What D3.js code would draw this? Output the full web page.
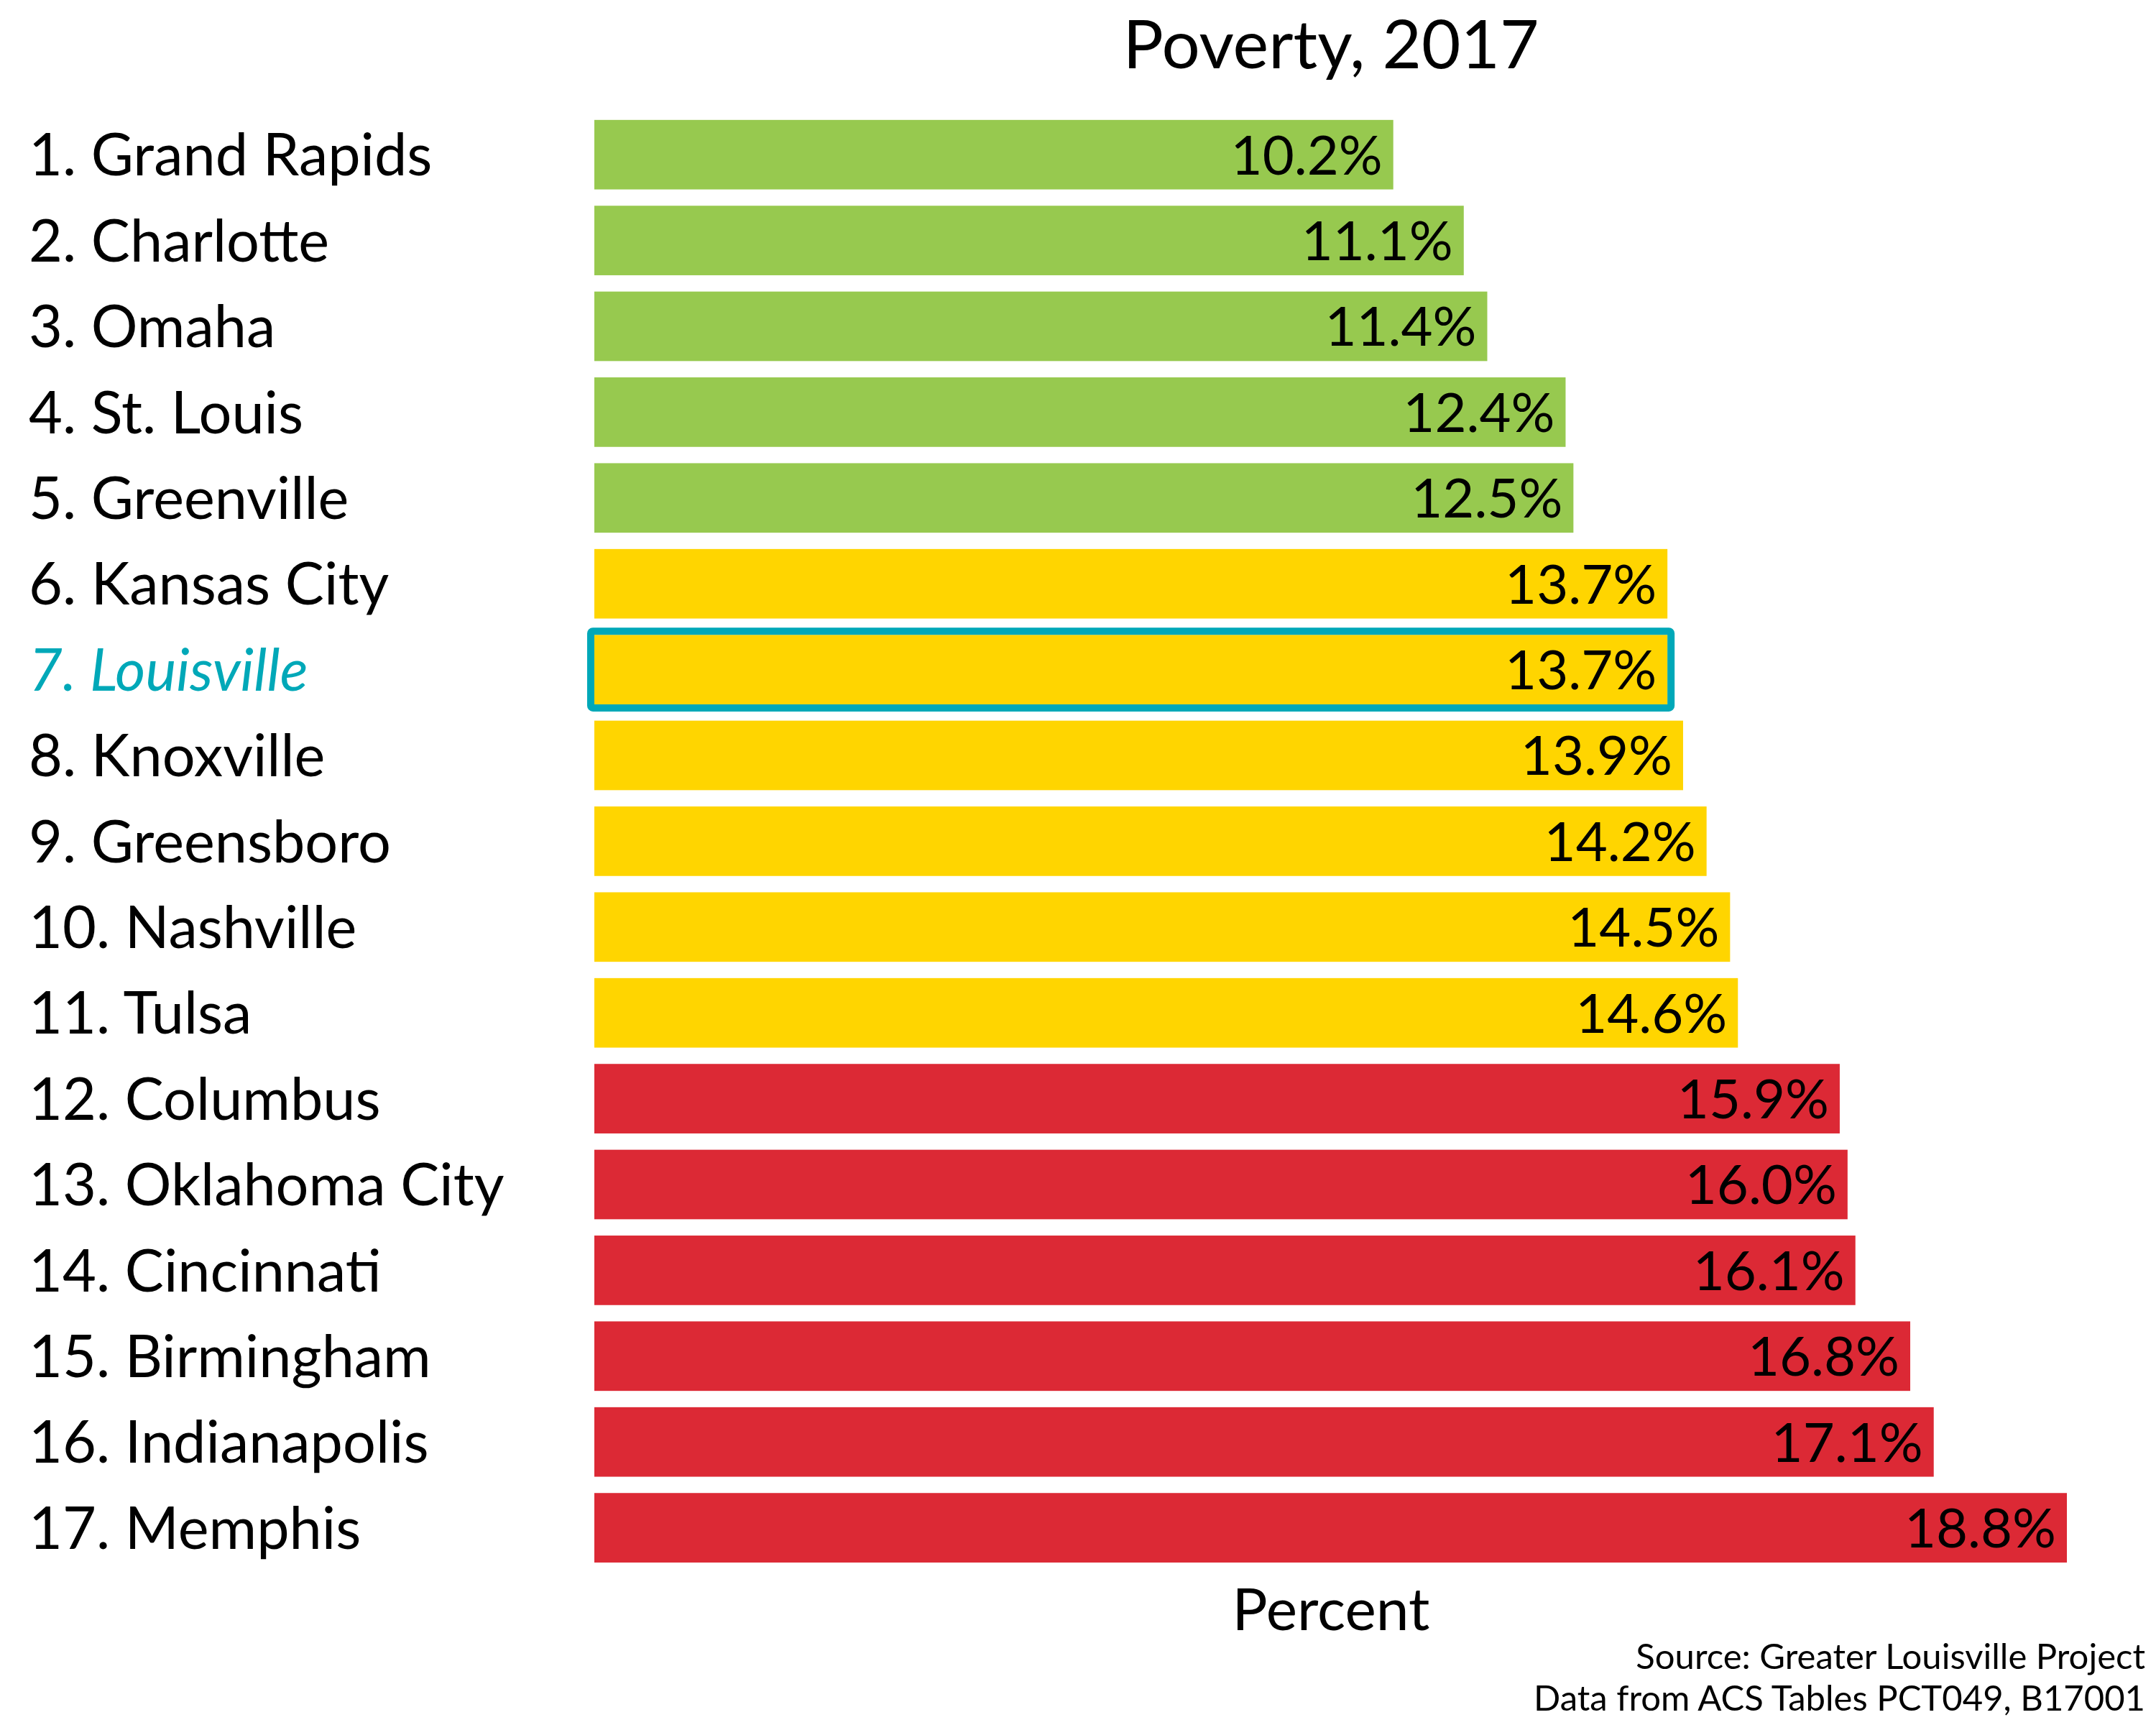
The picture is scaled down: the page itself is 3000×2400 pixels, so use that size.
<!DOCTYPE html>
<html><head><meta charset="utf-8">
<script src="https://cdn.jsdelivr.net/npm/d3@7"></script>
<style>body{margin:0;background:#fff}</style>
</head><body>
<script>
const cities = ["1. Grand Rapids","2. Charlotte","3. Omaha","4. St. Louis","5. Greenville","6. Kansas City","7. Louisville","8. Knoxville","9. Greensboro","10. Nashville","11. Tulsa","12. Columbus","13. Oklahoma City","14. Cincinnati","15. Birmingham","16. Indianapolis","17. Memphis"];
const values = [10.2,11.1,11.4,12.4,12.5,13.7,13.7,13.9,14.2,14.5,14.6,15.9,16.0,16.1,16.8,17.1,18.8];
const groups = ["good","good","good","good","good","mid","mid","mid","mid","mid","mid","bad","bad","bad","bad","bad","bad"];
const highlight = "7. Louisville";
const groupColors = {good:"#97C94F", mid:"#FFD500", bad:"#DC2935"};
const teal = "#00A8B8";

const W=3000,H=2400;
const svg=d3.select("body").append("svg").attr("width",W).attr("height",H).style("font-family","Lato, 'Open Sans', sans-serif");
const x=d3.scaleLinear().domain([0,18.8]).range([827,2876]);
const y=d3.scaleBand().domain(cities).range([155.5,2185.3]).paddingInner(0.19).paddingOuter(0.095);

const rows=cities.map((c,i)=>({c,v:values[i],g:groups[i]}));

svg.selectAll("rect.bar").data(rows).join("rect").attr("class","bar")
  .attr("x",x(0)).attr("y",d=>y(d.c)).attr("width",d=>x(d.v)-x(0)).attr("height",y.bandwidth())
  .attr("fill",d=>groupColors[d.g]);

const hl=rows.find(d=>d.c===highlight);
svg.append("rect").attr("x",x(0)-5).attr("y",y(hl.c)-5).attr("width",x(hl.v)-x(0)+10).attr("height",y.bandwidth()+10)
  .attr("rx",3).attr("fill","none").attr("stroke",teal).attr("stroke-width",10);

svg.selectAll("text.val").data(rows).join("text").attr("class","val")
  .attr("x",d=>x(d.v)-15).attr("y",d=>y(d.c)+y.bandwidth()/2).attr("dy","0.36em")
  .attr("text-anchor","end").attr("font-size",76).attr("fill","#000")
  .text(d=>d3.format(".1f")(d.v)+"%");

svg.selectAll("text.cat").data(rows).join("text").attr("class","cat")
  .attr("x",40).attr("y",d=>y(d.c)+y.bandwidth()/2).attr("dy","0.36em")
  .attr("font-size",81)
  .attr("fill",d=>d.c===highlight?teal:"#000")
  .attr("font-style",d=>d.c===highlight?"italic":"normal")
  .text(d=>d.c);

svg.append("text").attr("x",1852).attr("y",95).attr("text-anchor","middle").attr("font-size",94).text("Poverty, 2017");
svg.append("text").attr("x",1852).attr("y",2268).attr("text-anchor","middle").attr("font-size",82).text("Percent");
svg.append("text").attr("x",2985).attr("y",2322).attr("text-anchor","end").attr("font-size",49).text("Source: Greater Louisville Project");
svg.append("text").attr("x",2985).attr("y",2380).attr("text-anchor","end").attr("font-size",49).text("Data from ACS Tables PCT049, B17001");
</script>
</body></html>
